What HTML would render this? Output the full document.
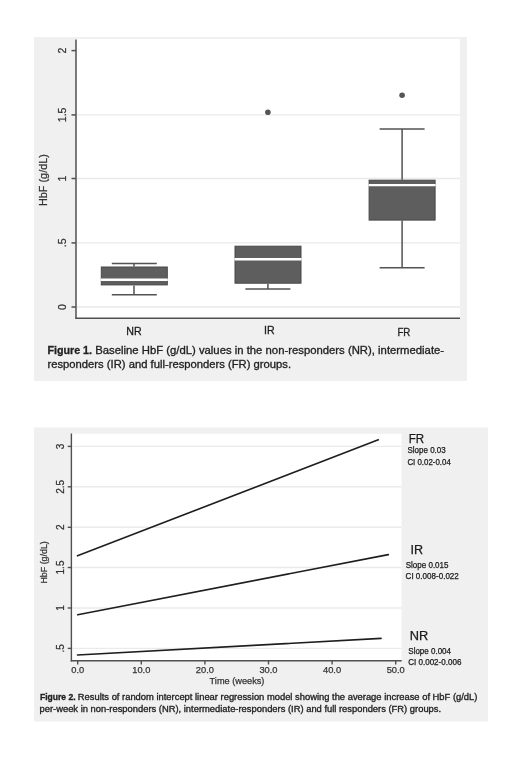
<!DOCTYPE html>
<html><head><meta charset="utf-8">
<style>
html,body{margin:0;padding:0;background:#fff;}
body{width:520px;height:764px;overflow:hidden;position:relative;}
svg{position:absolute;left:0;top:0;display:block;will-change:transform;}
text{font-family:"Liberation Sans",sans-serif;}
.cap text{stroke:#222;stroke-width:0.3;}
.ax text{stroke:#333;stroke-width:0.25;}
.leg text{stroke:#1a1a1a;stroke-width:0.25;}
.xl text{stroke:#1e1e1e;stroke-width:0.3;}
</style></head>
<body>
<svg width="520" height="764" viewBox="0 0 520 764">
<!-- ===== Figure 1 ===== -->
<rect x="34" y="37" width="433" height="344" fill="#f0f0f0"/>
<rect x="76" y="39" width="384" height="279" fill="#ffffff"/>
<g stroke="#eaeaea" stroke-width="1.4">
<line x1="77" y1="114.9" x2="460" y2="114.9"/>
<line x1="77" y1="178.5" x2="460" y2="178.5"/>
<line x1="77" y1="242.9" x2="460" y2="242.9"/>
<line x1="77" y1="307" x2="460" y2="307"/>
</g>
<!-- axes -->
<g stroke="#505050" stroke-width="1.5" fill="none">
<line x1="76" y1="39.5" x2="76" y2="318.9"/>
<line x1="75.3" y1="318.2" x2="460" y2="318.2"/>
<line x1="71.5" y1="50.6" x2="76" y2="50.6"/>
<line x1="71.5" y1="114.9" x2="76" y2="114.9"/>
<line x1="71.5" y1="178.5" x2="76" y2="178.5"/>
<line x1="71.5" y1="242.9" x2="76" y2="242.9"/>
<line x1="71.5" y1="307" x2="76" y2="307"/>
</g>
<g fill="#333" font-size="10.5" text-anchor="middle" class="ax">
<text transform="translate(66.3,50.6) rotate(-90)">2</text>
<text transform="translate(66.3,114.9) rotate(-90)">1.5</text>
<text transform="translate(66.3,178.5) rotate(-90)">1</text>
<text transform="translate(66.3,242.9) rotate(-90)">.5</text>
<text transform="translate(66.3,307) rotate(-90)">0</text>
<text transform="translate(47.2,180.1) rotate(-90)" font-size="10.85">HbF (g/dL)</text>
</g>
<!-- boxes -->
<g fill="#5e5e5e" stroke="#484848" stroke-width="1">
<rect x="101.3" y="267" width="66" height="17.9"/>
<rect x="235" y="246.2" width="66" height="37"/>
<rect x="369.1" y="180.2" width="66" height="39.9"/>
</g>
<g fill="#555555">
<circle cx="267.9" cy="112.3" r="2.8"/>
<circle cx="402.1" cy="95.2" r="2.8"/>
</g>
<g stroke="#525252" stroke-width="1.5" fill="none">
<!-- NR -->
<line x1="134" y1="263.6" x2="134" y2="266.5"/>
<line x1="111.8" y1="263.6" x2="156.8" y2="263.6"/>
<line x1="134" y1="285.4" x2="134" y2="294.8"/>
<line x1="111.8" y1="294.8" x2="156.8" y2="294.8"/>
<!-- IR -->
<line x1="267.9" y1="283.8" x2="267.9" y2="289"/>
<line x1="245.4" y1="289" x2="290.4" y2="289"/>
<!-- FR -->
<line x1="402.1" y1="129" x2="402.1" y2="179.7"/>
<line x1="379.6" y1="129" x2="424.6" y2="129"/>
<line x1="402.1" y1="220.6" x2="402.1" y2="267.7"/>
<line x1="379.6" y1="267.7" x2="424.6" y2="267.7"/>
</g>
<g stroke="#ffffff" stroke-width="2.4">
<line x1="100.8" y1="279.7" x2="167.8" y2="279.7"/>
<line x1="234.5" y1="259.2" x2="301.5" y2="259.2"/>
<line x1="368.6" y1="185.1" x2="435.6" y2="185.1"/>
</g>
<g fill="#1e1e1e" font-size="10.6" class="xl">
<text x="126.3" y="334.5" textLength="15.4" lengthAdjust="spacingAndGlyphs">NR</text>
<text x="264.1" y="334.1" textLength="10.6" lengthAdjust="spacingAndGlyphs">IR</text>
<text x="397.4" y="335.6" textLength="13" lengthAdjust="spacingAndGlyphs">FR</text>
</g>
<g fill="#222" font-size="10.3" class="cap">
<text x="47.4" y="353.5" textLength="44.6" lengthAdjust="spacingAndGlyphs" font-weight="bold">Figure 1.</text>
<text x="95.2" y="353.5" textLength="348.9" lengthAdjust="spacingAndGlyphs">Baseline HbF (g/dL) values in the non-responders (NR), intermediate-</text>
<text x="47.5" y="368.3" textLength="243.6" lengthAdjust="spacingAndGlyphs">responders (IR) and full-responders (FR) groups.</text>
</g>

<!-- ===== Figure 2 ===== -->
<rect x="34" y="427.5" width="454" height="294" fill="#f0f0f0"/>
<rect x="71.5" y="433.7" width="330" height="227" fill="#ffffff"/>
<g stroke="#eaeaea" stroke-width="1.4">
<line x1="72.5" y1="446.4" x2="401.5" y2="446.4"/>
<line x1="72.5" y1="486.8" x2="401.5" y2="486.8"/>
<line x1="72.5" y1="527.3" x2="401.5" y2="527.3"/>
<line x1="72.5" y1="567.5" x2="401.5" y2="567.5"/>
<line x1="72.5" y1="608" x2="401.5" y2="608"/>
<line x1="72.5" y1="648.4" x2="401.5" y2="648.4"/>
</g>
<g stroke="#505050" stroke-width="1.4" fill="none">
<line x1="71.4" y1="433.5" x2="71.4" y2="661.5"/>
<line x1="70.7" y1="660.8" x2="401.7" y2="660.8"/>
<line x1="67.7" y1="446.4" x2="71.4" y2="446.4"/>
<line x1="67.7" y1="486.8" x2="71.4" y2="486.8"/>
<line x1="67.7" y1="527.3" x2="71.4" y2="527.3"/>
<line x1="67.7" y1="567.5" x2="71.4" y2="567.5"/>
<line x1="67.7" y1="608" x2="71.4" y2="608"/>
<line x1="67.7" y1="648.4" x2="71.4" y2="648.4"/>
<line x1="77.7" y1="660.8" x2="77.7" y2="664.5"/>
<line x1="141.3" y1="660.8" x2="141.3" y2="664.5"/>
<line x1="204.9" y1="660.8" x2="204.9" y2="664.5"/>
<line x1="268.5" y1="660.8" x2="268.5" y2="664.5"/>
<line x1="332.1" y1="660.8" x2="332.1" y2="664.5"/>
<line x1="395.7" y1="660.8" x2="395.7" y2="664.5"/>
</g>
<g fill="#333" font-size="10" text-anchor="middle" class="ax">
<text transform="translate(63.8,446.4) rotate(-90)">3</text>
<text transform="translate(63.8,486.8) rotate(-90)">2.5</text>
<text transform="translate(63.8,527.3) rotate(-90)">2</text>
<text transform="translate(63.8,567.5) rotate(-90)">1.5</text>
<text transform="translate(63.8,608) rotate(-90)">1</text>
<text transform="translate(63.8,648.4) rotate(-90)">.5</text>
<text transform="translate(47.4,562.4) rotate(-90)" font-size="8.9">HbF (g/dL)</text>
<text x="77.7" y="673.3" font-size="9.3">0.0</text>
<text x="141.3" y="673.3" font-size="9.3">10.0</text>
<text x="204.9" y="673.3" font-size="9.3">20.0</text>
<text x="268.5" y="673.3" font-size="9.3">30.0</text>
<text x="332.1" y="673.3" font-size="9.3">40.0</text>
<text x="395.7" y="673.3" font-size="9.3">50.0</text>
<text x="237" y="683.5" font-size="9.2">Time (weeks)</text>
</g>
<g stroke="#1e1e1e" stroke-width="1.6" fill="none" stroke-linecap="round">
<line x1="77.5" y1="555.8" x2="378.3" y2="439.8"/>
<line x1="77.7" y1="614.8" x2="388.3" y2="554.6"/>
<line x1="77.5" y1="655" x2="381" y2="638.4"/>
</g>
<g fill="#1a1a1a" class="leg">
<text x="408.8" y="442.6" font-size="12.3" textLength="15.4" lengthAdjust="spacingAndGlyphs">FR</text>
<text x="407.5" y="453.4" font-size="8.3" textLength="38.2" lengthAdjust="spacingAndGlyphs">Slope 0.03</text>
<text x="407.4" y="464.5" font-size="8.3" textLength="43.4" lengthAdjust="spacingAndGlyphs">CI 0.02-0.04</text>
<text x="410.4" y="553.8" font-size="12.3" textLength="12.6" lengthAdjust="spacingAndGlyphs">IR</text>
<text x="405.7" y="568" font-size="8.3" textLength="42.8" lengthAdjust="spacingAndGlyphs">Slope 0.015</text>
<text x="405.6" y="579.2" font-size="8.3" textLength="53.2" lengthAdjust="spacingAndGlyphs">CI 0.008-0.022</text>
<text x="409.8" y="640.2" font-size="12.3" textLength="18.5" lengthAdjust="spacingAndGlyphs">NR</text>
<text x="408.3" y="654" font-size="8.3" textLength="42.7" lengthAdjust="spacingAndGlyphs">Slope 0.004</text>
<text x="408.2" y="665.2" font-size="8.3" textLength="53.2" lengthAdjust="spacingAndGlyphs">CI 0.002-0.006</text>
</g>
<g fill="#222" font-size="8.35" class="cap">
<text x="40" y="700" textLength="35.6" lengthAdjust="spacingAndGlyphs" font-weight="bold">Figure 2.</text>
<text x="77.8" y="700" textLength="399.6" lengthAdjust="spacingAndGlyphs">Results of random intercept linear regression model showing the average increase of HbF (g/dL)</text>
<text x="39.5" y="712" textLength="401.6" lengthAdjust="spacingAndGlyphs">per-week in non-responders (NR), intermediate-responders (IR) and full responders (FR) groups.</text>
</g>
</svg>
</body></html>
